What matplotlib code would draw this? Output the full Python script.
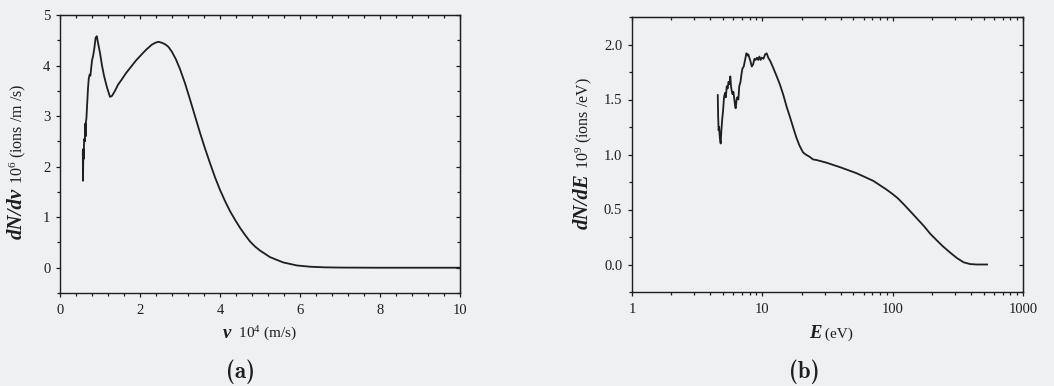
import matplotlib
matplotlib.use("Agg")
import matplotlib.pyplot as plt
from matplotlib.ticker import MultipleLocator, FixedLocator, LogLocator, NullFormatter, FormatStrFormatter, FixedFormatter

# ---- (a) velocity distribution: v in 10^4 m/s, dN/dv in 10^6 ions/(m/s) ----
velocity = [0.57, 0.575, 0.58, 0.585, 0.59, 0.60, 0.61, 0.62, 0.63, 0.64, 0.65, 0.66,
            0.68, 0.70, 0.72, 0.74, 0.76, 0.78, 0.80, 0.83, 0.86, 0.89, 0.92, 0.95,
            1.00, 1.05, 1.10, 1.17, 1.25, 1.30, 1.375, 1.45, 1.54, 1.65, 1.79, 1.90,
            2.04, 2.15, 2.29, 2.38, 2.46, 2.55, 2.63, 2.71, 2.80, 2.90, 3.00, 3.125,
            3.25, 3.375, 3.50, 3.625, 3.75, 3.875, 4.00, 4.125, 4.25, 4.375, 4.50,
            4.625, 4.75, 4.875, 5.00, 5.25, 5.58, 5.92, 6.25, 6.60, 7.00, 8.00, 9.00, 10.0]
dn_dv = [2.30, 1.72, 2.05, 2.35, 2.15, 2.45, 2.55, 2.50, 2.85, 2.60, 2.90, 2.95,
         3.25, 3.55, 3.75, 3.82, 3.80, 3.95, 4.10, 4.20, 4.35, 4.55, 4.58, 4.45,
         4.25, 4.00, 3.80, 3.58, 3.38, 3.40, 3.50, 3.62, 3.72, 3.85, 3.99, 4.10,
         4.22, 4.31, 4.41, 4.45, 4.47, 4.45, 4.42, 4.37, 4.27, 4.12, 3.93, 3.65,
         3.33, 3.00, 2.67, 2.36, 2.07, 1.79, 1.54, 1.32, 1.12, 0.95, 0.79,
         0.65, 0.52, 0.42, 0.34, 0.21, 0.105, 0.045, 0.02, 0.008, 0.003, 0.0, 0.0, 0.0]

# ---- (b) energy distribution: E in eV, dN/dE in 10^9 ions/eV ----
energy = [4.55, 4.58, 4.62, 4.66, 4.72, 4.79, 4.85, 4.93, 5.00, 5.08, 5.17, 5.25,
          5.33, 5.42, 5.50, 5.60, 5.68, 5.75, 5.82, 5.90, 6.00, 6.10, 6.20, 6.25,
          6.35, 6.43, 6.55, 6.65, 6.80, 6.90, 7.03, 7.20, 7.37, 7.55, 7.70, 7.81,
          7.95, 8.10, 8.30, 8.50, 8.70, 8.88, 9.10, 9.30, 9.50, 9.70, 9.90, 10.2,
          10.5, 10.8, 11.1, 11.5, 12.2, 13.0, 13.7, 14.5, 15.4, 16.3, 17.3, 18.3,
          19.3, 20.5, 21.5, 23.0, 24.5, 26.0, 28.0, 31.2, 35.0, 39.4, 45.0, 52.8,
          60.0, 71.1, 80.0, 90.0, 100, 110, 121, 135, 153, 175, 194, 220, 243,
          275, 310, 350, 393, 442, 500, 530]
dn_de = [1.54, 1.35, 1.22, 1.25, 1.15, 1.10, 1.22, 1.33, 1.40, 1.52, 1.56, 1.52,
         1.62, 1.60, 1.66, 1.64, 1.71, 1.62, 1.58, 1.55, 1.57, 1.50, 1.43, 1.42,
         1.50, 1.52, 1.50, 1.62, 1.66, 1.72, 1.78, 1.80, 1.86, 1.92, 1.90, 1.91,
         1.88, 1.85, 1.80, 1.82, 1.87, 1.86, 1.88, 1.86, 1.89, 1.86, 1.88, 1.87,
         1.91, 1.92, 1.88, 1.85, 1.78, 1.70, 1.63, 1.54, 1.43, 1.34, 1.24, 1.15,
         1.08, 1.02, 1.00, 0.98, 0.955, 0.95, 0.94, 0.925, 0.905, 0.885, 0.86, 0.83,
         0.80, 0.76, 0.72, 0.68, 0.64, 0.60, 0.55, 0.49, 0.42, 0.345, 0.28, 0.215, 0.165,
         0.11, 0.06, 0.02, 0.004, 0.0, 0.0, 0.0]

v_ticks = [0, 2, 4, 6, 8, 10]
a_yticks = [0, 1, 2, 3, 4, 5]
e_ticks = [1, 10, 100, 1000]
e_ticklabels = ["1", "10", "100", "1000"]
b_yticks = [0.0, 0.5, 1.0, 1.5, 2.0]

W, H, DPI = 1054, 386, 100
BG = "#eff0f2"
INK = "#1e1e1e"
SERIF = "Liberation Serif"

plt.rcParams.update({
    "font.family": SERIF,
    "mathtext.fontset": "custom",
    "mathtext.rm": SERIF,
    "mathtext.it": SERIF + ":italic",
    "mathtext.bf": SERIF + ":bold",
})

fig = plt.figure(figsize=(W / DPI, H / DPI), dpi=DPI, facecolor=BG)


def frac_box(left, top, right, bottom):
    return [left / W, 1 - bottom / H, (right - left) / W, (bottom - top) / H]


def style_axes(ax):
    ax.set_facecolor(BG)
    for s in ax.spines.values():
        s.set_color(INK)
        s.set_linewidth(1.0)
    ax.tick_params(which="both", direction="out", colors=INK, labelsize=10.5,
                   top=False, right=False, width=0.9)
    ax.tick_params(which="major", length=3.0)
    ax.tick_params(which="minor", length=2.0)
    ax.tick_params(axis="x", pad=5)
    ax.tick_params(axis="y", pad=4)


def add_mirror(ax, xmajor, xminor, ymajor, yminor):
    """Top and right axes with inward ticks and no labels."""
    top = ax.secondary_xaxis("top")
    right = ax.secondary_yaxis("right")
    top.set_xticks(xmajor)
    top.xaxis.set_minor_locator(xminor)
    right.set_yticks(ymajor)
    right.yaxis.set_minor_locator(yminor)
    for twin, axis in ((top, top.xaxis), (right, right.yaxis)):
        axis.set_major_formatter(NullFormatter())
        axis.set_minor_formatter(NullFormatter())
        twin.tick_params(which="both", direction="in", colors=INK, width=0.9)
        twin.tick_params(which="major", length=3.0)
        twin.tick_params(which="minor", length=2.0)
        for s in twin.spines.values():
            s.set_color(INK)


# panel (a)
ax_a = fig.add_axes(frac_box(60, 15, 460, 293))
style_axes(ax_a)
ax_a.plot(velocity, dn_dv, color=INK, lw=1.3)
ax_a.set_xlim(0, 10)
ax_a.set_ylim(-0.5, 5)
ax_a.set_xticks(v_ticks)
ax_a.set_yticks(a_yticks)
ax_a.xaxis.set_minor_locator(MultipleLocator(0.4))
ax_a.yaxis.set_minor_locator(MultipleLocator(0.5))
add_mirror(ax_a, v_ticks, MultipleLocator(0.4), a_yticks, MultipleLocator(0.5))

# panel (b)
ax_b = fig.add_axes(frac_box(632, 17, 1023, 292))
style_axes(ax_b)
ax_b.plot(energy, dn_de, color=INK, lw=1.3)
ax_b.set_xscale("log")
ax_b.set_xlim(1, 1000)
ax_b.set_ylim(-0.25, 2.25)
ax_b.xaxis.set_major_locator(FixedLocator(e_ticks))
ax_b.xaxis.set_major_formatter(FixedFormatter(e_ticklabels))
ax_b.xaxis.set_minor_locator(LogLocator(base=10, subs=range(2, 10)))
ax_b.xaxis.set_minor_formatter(NullFormatter())
ax_b.set_yticks(b_yticks)
ax_b.yaxis.set_major_formatter(FormatStrFormatter("%.1f"))
ax_b.yaxis.set_minor_locator(MultipleLocator(0.25))
add_mirror(ax_b, e_ticks, LogLocator(base=10, subs=range(2, 10)), b_yticks, MultipleLocator(0.25))

renderer = fig.canvas.get_renderer()


def composite(parts, cx, cy, vertical=False):
    """Lay out text pieces of different fonts end to end, centred on (cx, cy) px
    from the top-left corner; cy (or cx when vertical) is the baseline."""
    widths = []
    for s, kw in parts:
        t = fig.text(0, 0, s, **kw)
        widths.append(t.get_window_extent(renderer).width)
        t.remove()
    total = sum(widths)
    pos = (cy + total / 2) if vertical else (cx - total / 2)
    for (s, kw), w in zip(parts, widths):
        if vertical:
            fig.text(cx / W, 1 - pos / H, s, rotation=90, rotation_mode="anchor",
                     ha="left", va="baseline", color=INK, **kw)
            pos -= w
        else:
            fig.text(pos / W, 1 - cy / H, s, ha="left", va="baseline", color=INK, **kw)
            pos += w


ylab_bold = dict(fontsize=15, fontweight="bold", fontstyle="italic")
ylab_plain = dict(fontsize=11.5)
xlab_bold = dict(fontsize=13.5, fontweight="bold", fontstyle="italic")
xlab_plain = dict(fontsize=11)

composite([("dN/dv", ylab_bold), (" 10$^6$ (ions /m /s)", ylab_plain)], 22, 161, vertical=True)
composite([("dN/dE", ylab_bold), (" 10$^9$ (ions /eV)", ylab_plain)], 588, 153, vertical=True)
composite([("v", xlab_bold), ("  10$^4$ (m/s)", xlab_plain)], 260, 338)
composite([("E", xlab_bold), (" (eV)", xlab_plain)], 831, 338)

fig.text(240 / W, 1 - 372 / H, "(a)", fontfamily="cmb10", fontsize=16.5,
         ha="center", va="center", color=INK)
fig.text(804 / W, 1 - 372 / H, "(b)", fontfamily="cmb10", fontsize=16.5,
         ha="center", va="center", color=INK)

fig.savefig("out.png", dpi=DPI, facecolor=BG)
